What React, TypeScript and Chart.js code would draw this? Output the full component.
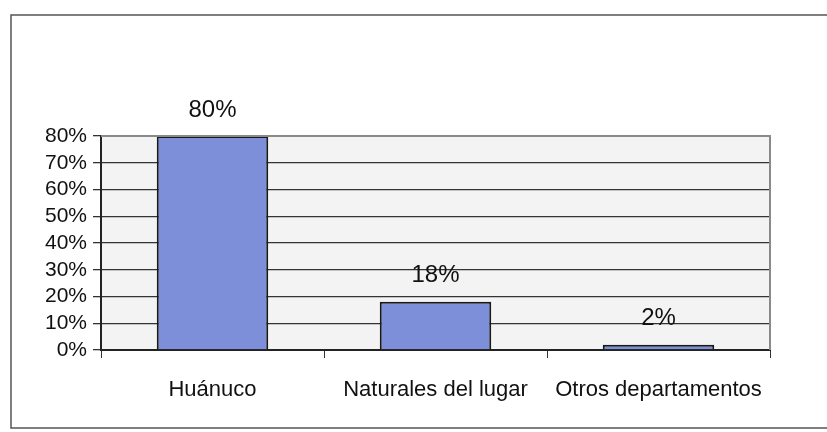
import React, { useEffect, useRef } from "react";
import { Chart, registerables } from "chart.js";

Chart.register(...registerables);

const categories = ["Huánuco", "Naturales del lugar", "Otros departamentos"];
const values = [80, 18, 2];
const yTicks = [0, 10, 20, 30, 40, 50, 60, 70, 80];

const FONT = "'Liberation Sans', Arial, sans-serif";

const framePlugin = {
  id: "frame",
  beforeDraw(chart: any) {
    const { ctx, chartArea } = chart;
    ctx.save();
    ctx.fillStyle = "#ffffff";
    ctx.fillRect(0, 0, chart.width, chart.height);
    ctx.strokeStyle = "#555555";
    ctx.lineWidth = 1.5;
    ctx.strokeRect(11, 15, 830, 413);
    ctx.fillStyle = "#f3f3f3";
    ctx.fillRect(chartArea.left, chartArea.top, chartArea.right - chartArea.left, chartArea.bottom - chartArea.top);
    ctx.restore();
  },
  afterDraw(chart: any) {
    const { ctx, chartArea } = chart;
    ctx.save();
    ctx.strokeStyle = "#8a8a8a";
    ctx.lineWidth = 2;
    ctx.beginPath();
    ctx.moveTo(chartArea.left, chartArea.top);
    ctx.lineTo(chartArea.right, chartArea.top);
    ctx.lineTo(chartArea.right, chartArea.bottom);
    ctx.stroke();
    ctx.restore();
  },
};

const labelPlugin = {
  id: "barLabels",
  afterDatasetsDraw(chart: any) {
    const { ctx } = chart;
    const meta = chart.getDatasetMeta(0);
    ctx.save();
    ctx.fillStyle = "#111111";
    ctx.font = `24px ${FONT}`;
    ctx.textAlign = "center";
    ctx.textBaseline = "middle";
    meta.data.forEach((bar: any, i: number) => {
      ctx.fillText(values[i] + "%", bar.x, bar.y - 26);
    });
    ctx.restore();
  },
};

export default function App() {
  const ref = useRef<HTMLCanvasElement>(null);
  useEffect(() => {
    document.body.style.margin = "0";
    const chart = new Chart(ref.current!, {
      type: "bar",
      data: {
        labels: categories,
        datasets: [
          {
            data: values,
            backgroundColor: "#7d8fd9",
            borderColor: "#1a1a1a",
            borderWidth: 2,
            barPercentage: 0.5,
            categoryPercentage: 1,
          },
        ],
      },
      options: {
        animation: false,
        responsive: false,
        layout: { padding: { top: 136, right: 57, left: 0, bottom: 0 } },
        plugins: { legend: { display: false }, tooltip: { enabled: false } },
        scales: {
          x: {
            afterFit: (s: any) => { s.height = 82; },
            grid: { offset: true, drawOnChartArea: false, drawTicks: true, tickLength: 8, color: "#333333" },
            border: { color: "#222222", width: 2 },
            ticks: { color: "#111111", font: { family: FONT, size: 22 }, padding: 19 },
          },
          y: {
            min: 0,
            max: 80,
            afterFit: (s: any) => { s.width = 101; },
            afterBuildTicks: (s: any) => { s.ticks = yTicks.map((v) => ({ value: v })); },
            grid: { color: "#333333", lineWidth: 1.3, tickLength: 8 },
            border: { color: "#222222", width: 2 },
            ticks: {
              autoSkip: false,
              color: "#111111",
              font: { family: FONT, size: 21 },
              padding: 6,
              callback: (v: any) => v + "%",
            },
          },
        },
      },
      plugins: [framePlugin, labelPlugin],
    });
    return () => chart.destroy();
  }, []);
  return (
    <div style={{ width: 827, height: 432 }}>
      <canvas ref={ref} width={827} height={432} style={{ display: "block" }} />
    </div>
  );
}
